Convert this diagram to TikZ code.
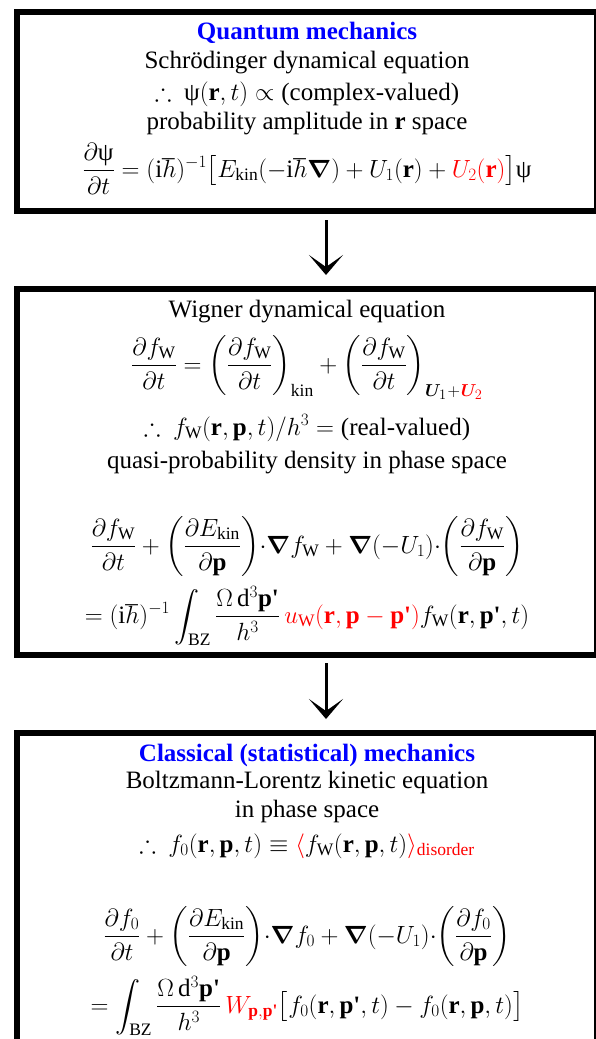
\documentclass[tikz,border=0pt]{standalone}
\usepackage{amsmath,amssymb}
\usepackage{bm}
\usepackage{fontspec}
\setmainfont{Liberation Serif}
\usetikzlibrary{arrows.meta}
\newcommand{\qpsi}{\text{ψ}}
\newcommand{\bpp}{\text{\bfseries p\textquotesingle}}
\newcommand{\rd}[1]{\textcolor{red}{#1}}
\newcommand{\fW}{f_{\mathrm{W}}}
\newcommand{\dotp}{{\cdot}}

\begin{document}
\begin{tikzpicture}[x=1pt, y=-1pt,
  font=\fontsize{25}{30}\selectfont,
  panel/.style={draw, line width=6pt, minimum width=580pt, inner sep=0pt},
  ttl/.style={anchor=base, inner sep=0pt, font=\fontsize{25}{30}\selectfont\bfseries, text=blue},
  ln/.style={anchor=base, inner sep=0pt},
  arr/.style={-{Stealth[length=20pt, width=34pt, inset=12pt]}, line width=3pt}
]
\useasboundingbox (0,0) rectangle (596,1039);
\node[panel, minimum height=199pt] (qm) at (307,111.5) {};
\node[panel, minimum height=366pt] (wig) at (307,472) {};
\node[panel, minimum height=314pt] (cl) at (307,890) {};

\node[ttl] (qmttl) at (307,39) {Quantum mechanics};
\node[ln] (qmsch) at (307,68) {Schrödinger dynamical equation};
\node[ln] (qmpsi) at (307,100) {$\therefore$\ \ $\qpsi(\mathbf{r},t)\propto{}$(complex-valued)};
\node[ln] (qmamp) at (307,129) {probability amplitude in \textbf{r} space};
\node[ln] (qmeq) at (307,177) {$\dfrac{\partial\qpsi}{\partial t}=(\mathrm{i}\hbar)^{-1}\bigl[E_{\mathrm{kin}}(-\mathrm{i}\hbar\bm{\nabla})+U_1(\mathbf{r})+\rd{U_2(\mathbf{r})}\bigr]\qpsi$};

\node[ln] (wigname) at (307,317) {Wigner dynamical equation};
\node[ln] (wigeq) at (307,372) {$\dfrac{\partial\fW}{\partial t}=\left(\dfrac{\partial\fW}{\partial t}\right)_{\mathrm{kin}}+\left(\dfrac{\partial\fW}{\partial t}\right)_{\text{\fontsize{19}{22}\selectfont$\bm{U}_1\!+\!\rd{\bm{U}_2}$}}$};
\node[ln] (wigfw) at (307,435) {$\therefore$\ \ $\fW(\mathbf{r},\mathbf{p},t)/h^3={}$(real-valued)};
\node[ln] (wigqp) at (307,468) {quasi-probability density in phase space};
\node[ln] (wigbl) at (307,553) {$\dfrac{\partial\fW}{\partial t}+\left(\dfrac{\partial E_{\mathrm{kin}}}{\partial\mathbf{p}}\right)\!\dotp\bm{\nabla}\fW+\bm{\nabla}(-U_1)\dotp\!\left(\dfrac{\partial\fW}{\partial\mathbf{p}}\right)$};
\node[ln] (wigcl) at (307,623) {$=(\mathrm{i}\hbar)^{-1}\displaystyle\int_{\mathrm{BZ}}\dfrac{\Omega\,\mathrm{d}^3\bpp}{h^3}\,\rd{u_{\mathrm{W}}(\mathbf{r},\mathbf{p}-\bpp)}\fW(\mathbf{r},\bpp,t)$};

\node[ttl] (clttl) at (307,761) {Classical (statistical) mechanics};
\node[ln] (clbl) at (307,788) {Boltzmann-Lorentz kinetic equation};
\node[ln] (clps) at (307,817) {in phase space};
\node[ln] (clf) at (307,852) {$\therefore$\ \ $f_0(\mathbf{r},\mathbf{p},t)\equiv\rd{\langle}\fW(\mathbf{r},\mathbf{p},t)\rd{\rangle_{\mathrm{disorder}}}$};
\node[ln] (cleqa) at (307,943) {$\dfrac{\partial f_0}{\partial t}+\left(\dfrac{\partial E_{\mathrm{kin}}}{\partial\mathbf{p}}\right)\!\dotp\bm{\nabla}f_0+\bm{\nabla}(-U_1)\dotp\!\left(\dfrac{\partial f_0}{\partial\mathbf{p}}\right)$};
\node[ln] (cleqb) at (307,1013) {$=\displaystyle\int_{\mathrm{BZ}}\dfrac{\Omega\,\mathrm{d}^3\bpp}{h^3}\,\rd{W_{\mathbf{p},\bpp}}\bigl[f_0(\mathbf{r},\bpp,t)-f_0(\mathbf{r},\mathbf{p},t)\bigr]$};

\draw[arr, shorten <=6pt, shorten >=11pt] ([xshift=19pt]qm.south) -- ([xshift=19pt]wig.north);
\draw[arr, shorten <=5pt, shorten >=11pt] ([xshift=19pt]wig.south) -- ([xshift=19pt]cl.north);
\end{tikzpicture}
\end{document}
